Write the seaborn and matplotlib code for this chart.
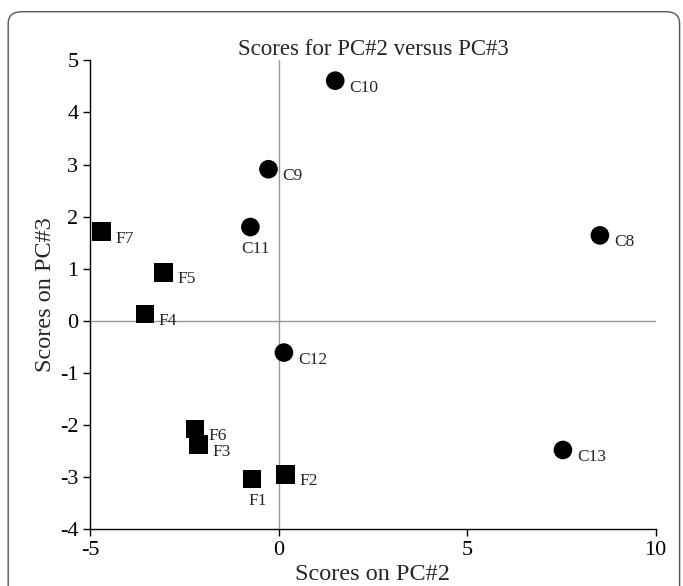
import pandas as pd
import seaborn as sns
from matplotlib import pyplot as plt
from matplotlib.patches import FancyBboxPatch

# scores
labels = ['F1', 'F2', 'F3', 'F4', 'F5', 'F6', 'F7',
          'C8', 'C9', 'C10', 'C11', 'C12', 'C13']
pc2 = [-0.71, 0.18, -2.13, -3.55, -3.05, -2.22, -4.70,
       8.52, -0.27, 1.50, -0.75, 0.14, 7.54]
pc3 = [-3.04, -2.95, -2.38, 0.13, 0.93, -2.08, 1.71,
       1.64, 2.91, 4.61, 1.80, -0.61, -2.48]
group = ['F'] * 7 + ['C'] * 6

df = pd.DataFrame({'label': labels, 'pc2': pc2, 'pc3': pc3, 'group': group})

sns.set_style('ticks')
plt.rcParams['font.family'] = ['Liberation Serif', 'DejaVu Serif']
plt.rcParams['axes.unicode_minus'] = False

fig = plt.figure(figsize=(6.83, 5.86), dpi=100)
ax = fig.add_axes([0.132, 0.097, 0.828, 0.8])

# reference lines at zero
ax.axhline(0, color='#999999', lw=1, zorder=0)
ax.axvline(0, color='#999999', lw=1, zorder=0)

sns.scatterplot(data=df, x='pc2', y='pc3', style='group',
                markers={'F': 's', 'C': 'o'}, color='black',
                s=180, linewidth=0, legend=False, ax=ax)

# label offsets (points); C11 and F1 sit below their marker
for lab, x, y in zip(labels, pc2, pc3):
    if lab in ('C11', 'F1'):
        off, ha, va = (4, -10), 'center', 'top'
    else:
        off, ha, va = (10, -5), 'left', 'center'
    ax.annotate(lab, (x, y), xytext=off, textcoords='offset points',
                ha=ha, va=va, fontsize=12.5)

ax.set_xlim(-5, 10)
ax.set_ylim(-4, 5)
ax.set_xticks([-5, 0, 5, 10])
ax.set_yticks(range(-4, 6))
ax.tick_params(labelsize=16, length=5, width=1, colors='black')
for sp in ['left', 'bottom']:
    ax.spines[sp].set_color('black')
    ax.spines[sp].set_linewidth(1)
sns.despine(ax=ax)

ax.set_title('Scores for PC#2 versus PC#3', fontsize=16.5, pad=3)
ax.set_xlabel('Scores on PC#2', fontsize=17.5, labelpad=3)
ax.set_ylabel('Scores on PC#3', fontsize=17.5, labelpad=3)

# rounded border round the figure
fig.patches.append(FancyBboxPatch((0.012, -0.05), 0.983, 1.03,
                                  boxstyle='round,pad=0,rounding_size=0.02',
                                  transform=fig.transFigure, fill=False,
                                  edgecolor='#555555', lw=1))

fig.savefig('out.png', dpi=100)
